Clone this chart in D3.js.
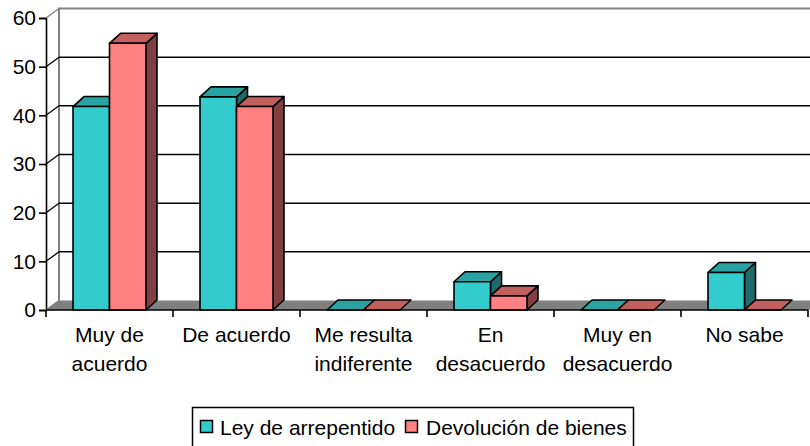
<!DOCTYPE html>
<html><head><meta charset="utf-8">
<script src="https://cdn.jsdelivr.net/npm/d3@7"></script>
<style>html,body{margin:0;padding:0;background:#fff}svg{display:block}text{font-family:"Liberation Sans",Arial,sans-serif;font-size:21px;fill:#000}</style>
</head><body><svg id="c" width="810" height="446"></svg>
<script>
const categories=[["Muy de","acuerdo"],["De acuerdo"],["Me resulta","indiferente"],["En","desacuerdo"],["Muy en","desacuerdo"],["No sabe"]];
const seriesNames=["Ley de arrepentido","Devolución de bienes"];
const ley=[41.8,43.8,0,5.8,0,7.7];
const devolucion=[54.8,41.8,0,2.9,0,0];
const yTicks=[0,10,20,30,40,50,60];
const palette=[{f:"#33cccc",t:"#29a3a3",s:"#1f6b6b"},{f:"#ff8080",t:"#c26060",s:"#804040"}];
const svg=d3.select("#c");
const x=d3.scaleBand().domain(d3.range(categories.length)).range([46,808]);
const y=d3.scaleLinear().domain([0,60]).range([310,18]);
const wx=13,wy=9.5,bx=11,by=10;
const path=p=>"M"+p.map(q=>q.join(",")).join("L")+"Z";
svg.append("path").attr("d",`M${46+wx},${y(0)-wy}V${y(60)-wy}H810`).attr("fill","none").attr("stroke","#808080").attr("stroke-width",2);
svg.selectAll(".g").data(yTicks.filter(d=>d>0&&d<60)).join("line").attr("x1",46+wx).attr("x2",810).attr("y1",d=>y(d)-wy).attr("y2",d=>y(d)-wy).attr("stroke","#000").attr("stroke-width",1.5);
svg.append("path").attr("d",path([[46,310],[46+wx,310-wy],[810,310-wy],[810,310]])).attr("fill","#808080");
const inner=d3.scaleBand().domain([0,1]).range([0,x.bandwidth()]).paddingOuter(0.74).paddingInner(0);
categories.forEach((_,i)=>{
  [ley,devolucion].forEach((vals,si)=>{
    const c=palette[si],v=vals[i];
    const x0=x(i)+inner(si),x1=x0+inner.bandwidth(),y0=y(0),yt=y(v);
    const g=svg.append("g").attr("stroke","#000").attr("stroke-width",1.6).attr("stroke-linejoin","round");
    if(v>0) g.append("path").attr("d",path([[x1,y0],[x1+bx,y0-by],[x1+bx,yt-by],[x1,yt]])).attr("fill",c.s);
    g.append("path").attr("d",path([[x0,yt],[x0+bx,yt-by],[x1+bx,yt-by],[x1,yt]])).attr("fill",c.t);
    if(v>0) g.append("rect").attr("x",x0).attr("y",yt).attr("width",x1-x0).attr("height",y0-yt).attr("fill",c.f);
  });
});
const ax=d3.axisLeft(y).tickValues(yTicks).tickSize(7).tickPadding(3);
const ga=svg.append("g").attr("transform","translate(46,0)").call(ax);
ga.select(".domain").attr("stroke","#000").attr("stroke-width",1.6);
ga.selectAll("line").attr("stroke","#000").attr("stroke-width",1.6);
ga.selectAll("text").style("font-size","21px").style("font-family",'"Liberation Sans"').attr("fill","#000");
svg.selectAll(".d").data(yTicks).join("line").attr("x1",46).attr("y1",d=>y(d)).attr("x2",46+wx).attr("y2",d=>y(d)-wy).attr("stroke",d=>d==0?"#808080":d==60?"#808080":"#000").attr("stroke-width",1.3);
svg.append("line").attr("x1",46).attr("x2",808).attr("y1",310).attr("y2",310).attr("stroke","#000").attr("stroke-width",1.6);
svg.selectAll(".xt").data(d3.range(categories.length+1)).join("line").attr("x1",i=>46+i*x.step()).attr("x2",i=>46+i*x.step()).attr("y1",310).attr("y2",317).attr("stroke","#000").attr("stroke-width",1.6);
categories.forEach((ls,i)=>ls.forEach((l,j)=>svg.append("text").attr("x",x(i)+x.bandwidth()/2).attr("y",342+j*28.5).attr("text-anchor","middle").text(l)));
svg.append("rect").attr("x",192.5).attr("y",407.5).attr("width",441).attr("height",45).attr("fill","#fff").attr("stroke","#000").attr("stroke-width",1.5);
[[200.5,220],[405.5,426]].forEach((p,i)=>{
  svg.append("rect").attr("x",p[0]).attr("y",420.5).attr("width",12).attr("height",12).attr("fill",palette[i].f).attr("stroke","#000").attr("stroke-width",1.5);
  svg.append("text").attr("x",p[1]).attr("y",435).text(seriesNames[i]);
});
</script></body></html>
